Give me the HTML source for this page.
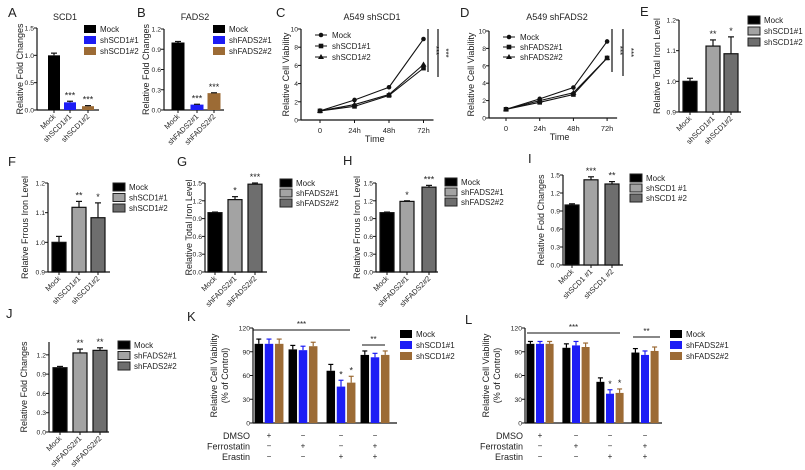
<!DOCTYPE html>
<html><head><meta charset="utf-8"><style>
html,body{margin:0;padding:0;background:#fff}
svg{display:block;font-family:"Liberation Sans",Arial,sans-serif}
</style></head><body>
<svg id="fig" width="805" height="470" viewBox="0 0 805 470"></svg>
<script>
// ---- data arrays ----
const barCats3 = ["Mock","shSCD1#1","shSCD1#2"];
const fadsCats3 = ["Mock","shFADS2#1","shFADS2#2"];
const aValues = [1.0, 0.14, 0.07];  const aErr = [0.04, 0.02, 0.01];
const bValues = [1.0, 0.08, 0.25];  const bErr = [0.015, 0.005, 0.005];
const eValues = [1.0, 1.115, 1.09]; const eErr = [0.01, 0.02, 0.055];
const fValues = [1.0, 1.118, 1.083];const fErr = [0.02, 0.02, 0.05];
const gValues = [1.0, 1.22, 1.48];  const gErr = [0.01, 0.05, 0.02];
const hValues = [1.0, 1.19, 1.43];  const hErr = [0.01, 0.01, 0.03];
const iValues = [1.0, 1.42, 1.35];  const iErr = [0.02, 0.05, 0.04];
const jValues = [1.0, 1.23, 1.27];  const jErr = [0.02, 0.06, 0.04];
const timeLabels = ["0","24h","48h","72h"];
const cMock = [1, 2.2, 3.6, 8.9]; const cSh1 = [1, 1.5, 2.7, 5.7]; const cSh2 = [1, 1.7, 2.8, 6.1];
const dMock = [1, 2.2, 3.5, 8.8]; const dSh1 = [1, 1.8, 2.7, 6.9]; const dSh2 = [1, 2.0, 2.9, 6.9];
const kMock = [100, 93, 66, 86]; const kSh1 = [100, 92, 46, 83]; const kSh2 = [100, 97, 51, 86];
const kErr = [6, 5, 8, 5];
const lMock = [100, 95, 52, 89]; const lSh1 = [100, 98, 37, 86]; const lSh2 = [100, 96, 38, 91];
const lErr = [3, 5, 5, 5];
const treatDMSO = ["+","−","−","−"];
const treatFerro = ["−","+","−","+"];
const treatErastin = ["−","−","+","+"];
const ticks15 = [0,0.5,1.0,1.5]; const ticks12 = [0,0.3,0.6,0.9,1.2];
const ticksIron = [0.9,1.0,1.1,1.2]; const ticks15b = [0,0.3,0.6,0.9,1.2,1.5];
const ticksLine = [0,2,4,6,8,10]; const ticks120 = [0,30,60,90,120];

const NS = "http://www.w3.org/2000/svg";
const svg = document.getElementById("fig");
function mk(tag, attrs, name, parent){
  const el = document.createElementNS(NS, tag);
  for (const k in attrs) el.setAttribute(k, attrs[k]);
  
  
  (parent||svg).appendChild(el); return el;
}
function txt(x,y,s,name,opt){
  opt=opt||{};
  const t = mk("text",{x:x,y:y,"font-size":opt.fs||8,"text-anchor":opt.anchor||"start",fill:opt.fill||"#222"},name);
  if(opt.rot!==undefined) t.setAttribute("transform","rotate("+opt.rot+" "+x+" "+y+")");
  t.textContent=s; return t;
}
function line(x1,y1,x2,y2,name,w){ return mk("line",{x1:x1,y1:y1,x2:x2,y2:y2,stroke:"#111","stroke-width":w||1},name); }

function yAxis(ax, yTop, yBot, vmin, vmax, ticks, fmt, label, lx, fs){
  const ys = v => yBot - (v - vmin)/(vmax - vmin)*(yBot - yTop);
  line(ax, yTop, ax, yBot, "y-axis", 1.2);
  ticks.forEach(t=>{ line(ax-3, ys(t), ax, ys(t), "y-tick"); txt(ax-3, ys(t)+2.5, fmt(t), "y-tick-label",{anchor:"end",fs:6.8}); });
  if(label){ const my=(yTop+yBot)/2; txt(lx, my, label, "y-axis-title",{anchor:"middle",rot:-90,fs:fs||9}); }
  return ys;
}
function legend(x, y0, dy, names, colors, gray){
  names.forEach((n,i)=>{
    mk("rect",{x:x,y:y0+i*dy-4,width:12,height:8,fill:colors[i],stroke:gray?"#222":"none","stroke-width":1},"legend-swatch");
    txt(x+16, y0+i*dy+3, n, "legend-entry",{fs:8});
  });
}
function barPanel(p){
  const ys = yAxis(p.ax,p.yTop,p.yBot,p.vmin,p.vmax,p.ticks,p.fmt,p.ylabel,p.lx,p.lfs);
  line(p.ax, p.yBot, p.ax+p.xlen, p.yBot, "x-axis",1.2);
  p.values.forEach((v,i)=>{
    const cx=p.centers[i], w=p.bw;
    const top=ys(v);
    mk("rect",{x:cx-w/2,y:top,width:w,height:p.yBot-top,fill:p.colors[i],stroke:p.outline?"#111":"none","stroke-width":1.2},"bar-"+p.cats[i]);
    const et=ys(v+p.err[i]);
    line(cx, top, cx, et, "error-bar",1.2); line(cx-3, et, cx+3, et, "error-cap",1.2);
    if(p.stars[i]) txt(cx, et-3, p.stars[i], "significance-stars",{anchor:"middle",fs:9});
    line(cx, p.yBot, cx, p.yBot+3, "x-tick");
    txt(cx+2, p.yBot+7, p.cats[i], "x-tick-label",{anchor:"end",rot:-45,fs:7.5});
  });
  legend(p.lgx, p.lgy, p.lgdy, p.cats, p.colors, p.outline);
}
const f1 = v=>v.toFixed(1);
const BLUE="#1d1df5", BROWN="#9c6b35", G1="#a3a3a3", G2="#6e6e6e";

[["A",8,17],["B",137,17],["C",276,17],["D",460,17],["E",640,16],["F",8,166],["G",177,166],["H",343,165],["I",528,163],["J",6,318],["K",187,321],["L",465,324]]
.forEach(l=>txt(l[1],l[2],l[0],"panel-label-"+l[0].toLowerCase(),{fs:13}));

txt(65,20,"SCD1","chart-title-a",{anchor:"middle",fs:9});
barPanel({ax:37,yTop:28,yBot:110,vmin:0,vmax:1.5,ticks:ticks15,fmt:f1,ylabel:"Relative Fold Changes",lx:23,xlen:62,
  values:aValues,err:aErr,centers:[54,70,88],bw:12,colors:["#000",BLUE,BROWN],cats:barCats3,stars:["","***","***"],lgx:84,lgy:29,lgdy:11});
txt(195,20,"FADS2","chart-title-b",{anchor:"middle",fs:9});
barPanel({ax:164,yTop:29,yBot:110,vmin:0,vmax:1.2,ticks:ticks12,fmt:f1,ylabel:"Relative Fold Changes",lx:149,xlen:60,
  values:bValues,err:bErr,centers:[178,197,214],bw:13,colors:["#000",BLUE,BROWN],cats:fadsCats3,stars:["","***","***"],lgx:213,lgy:29,lgdy:11});
barPanel({ax:679,yTop:20,yBot:112,vmin:0.9,vmax:1.2,ticks:ticksIron,fmt:f1,ylabel:"Relative Total Iron Level",lx:660,xlen:62,
  values:eValues,err:eErr,centers:[690,713,731],bw:14,colors:["#000",G1,G2],cats:barCats3,stars:["","**","*"],lgx:748,lgy:20,lgdy:11,outline:true});
barPanel({ax:48,yTop:183,yBot:272,vmin:0.9,vmax:1.2,ticks:ticksIron,fmt:f1,ylabel:"Relative Frrous Iron Level",lx:28,xlen:62,
  values:fValues,err:fErr,centers:[59,79,98],bw:14,colors:["#000",G1,G2],cats:barCats3,stars:["","**","*"],lgx:113,lgy:187,lgdy:10.5,outline:true});
barPanel({ax:205,yTop:183,yBot:272,vmin:0,vmax:1.5,ticks:ticks15b,fmt:f1,ylabel:"Relative Total Iron Level",lx:192,xlen:62,
  values:gValues,err:gErr,centers:[215,235,255],bw:14,colors:["#000",G1,G2],cats:fadsCats3,stars:["","*","***"],lgx:280,lgy:183,lgdy:10,outline:true});
barPanel({ax:376,yTop:183,yBot:272,vmin:0,vmax:1.5,ticks:ticks15b,fmt:f1,ylabel:"Relative Frrous Iron Level",lx:360,xlen:62,
  values:hValues,err:hErr,centers:[387,407,429],bw:14,colors:["#000",G1,G2],cats:fadsCats3,stars:["","*","***"],lgx:445,lgy:182,lgdy:10,outline:true});
barPanel({ax:563,yTop:175,yBot:265,vmin:0,vmax:1.5,ticks:ticks15b,fmt:f1,ylabel:"Relative Fold Changes",lx:544,xlen:60,
  values:iValues,err:iErr,centers:[572,591,612],bw:14,colors:["#000",G1,G2],cats:["Mock","shSCD1 #1","shSCD1 #2"],stars:["","***","**"],lgx:630,lgy:178,lgdy:10,outline:true});
barPanel({ax:49,yTop:342,yBot:432,vmin:0,vmax:1.4,ticks:ticks12,fmt:f1,ylabel:"Relative Fold Changes",lx:27,xlen:60,
  values:jValues,err:jErr,centers:[60,80,100],bw:14,colors:["#000",G1,G2],cats:fadsCats3,stars:["","**","**"],lgx:118,lgy:345,lgdy:10.5,outline:true});

function lineChart(p){
  const ys = yAxis(p.ax,p.yTop,p.yBot,0,10,ticksLine,v=>String(v),"Relative Cell Viability",p.lx,9);
  const xs = i => p.x0 + i*p.dx;
  line(p.ax,p.yBot,xs(3)+10,p.yBot,"x-axis",1.2);
  timeLabels.forEach((t,i)=>{ line(xs(i),p.yBot,xs(i),p.yBot+3,"x-tick"); txt(xs(i),p.yBot+13,t,"x-tick-label",{anchor:"middle",fs:7.5}); });
  txt((p.x0+xs(3))/2+3,p.yBot+22,"Time","x-axis-title",{anchor:"middle",fs:9});
  txt(p.tx,20,p.title,"chart-title",{anchor:"middle",fs:9});
  const series=[p.mock,p.sh1,p.sh2], names=p.names, markers=["circle","square","tri"];
  function marker(x,y,m,name){
    if(m==="circle") mk("circle",{cx:x,cy:y,r:2.3,fill:"#111"},name);
    else if(m==="square") mk("rect",{x:x-2.3,y:y-2.3,width:4.6,height:4.6,fill:"#111"},name);
    else mk("polygon",{points:(x)+","+(y-3)+" "+(x-3)+","+(y+2)+" "+(x+3)+","+(y+2),fill:"#111"},name);
  }
  series.forEach((s,k)=>{
    mk("polyline",{points:s.map((v,i)=>xs(i)+","+ys(v)).join(" "),fill:"none",stroke:"#111","stroke-width":1.1},"line-"+names[k]);
    s.forEach((v,i)=>marker(xs(i),ys(v),markers[k],"point-"+names[k]));
    line(p.lgx,p.lgy+k*p.lgdy,p.lgx+12,p.lgy+k*p.lgdy,"legend-line");
    marker(p.lgx+6,p.lgy+k*p.lgdy,markers[k],"legend-marker");
    txt(p.lgx+17,p.lgy+k*p.lgdy+3,names[k],"legend-entry",{fs:8});
  });
  p.sig.forEach(sg=>{ line(sg[0],sg[1],sg[0],sg[2],"significance-line",1.2); txt(sg[0]+5,(sg[1]+sg[2])/2,"***","significance-stars",{anchor:"middle",rot:90,fs:8}); });
}
lineChart({ax:301,yTop:29,yBot:120,lx:289,x0:320,dx:34.5,title:"A549 shSCD1",tx:372,mock:cMock,sh1:cSh1,sh2:cSh2,
  names:["Mock","shSCD1#1","shSCD1#2"],lgx:315,lgy:35,lgdy:11,sig:[[428,29,72],[438,29,77]]});
lineChart({ax:489,yTop:31,yBot:118,lx:474,x0:506,dx:33.7,title:"A549 shFADS2",tx:557,mock:dMock,sh1:dSh1,sh2:dSh2,
  names:["Mock","shFADS2#1","shFADS2#2"],lgx:503,lgy:37,lgdy:10,sig:[[612,29,72],[623,29,76]]});

function groupChart(p){
  const ys = yAxis(p.ax,p.yTop,p.yBot,0,120,ticks120,v=>String(v),null);
  txt(p.ax-36,(p.yTop+p.yBot)/2,"Relative Cell Viability","y-axis-title",{anchor:"middle",rot:-90,fs:9});
  txt(p.ax-25,(p.yTop+p.yBot)/2,"(% of Control)","y-axis-title-2",{anchor:"middle",rot:-90,fs:9});
  line(p.ax,p.yBot,p.ax+p.xlen,p.yBot,"x-axis",1.2);
  const series=[p.mock,p.sh1,p.sh2], cols=["#000",BLUE,BROWN];
  p.groups.forEach((gc,g)=>{
    series.forEach((s,k)=>{
      const cx=gc+(k-1)*p.bw*1.2, top=ys(s[g]);
      mk("rect",{x:cx-p.bw/2,y:top,width:p.bw,height:p.yBot-top,fill:cols[k]},"bar-"+p.names[k]+"-group"+(g+1));
      const et=ys(s[g]+p.err[g]);
      mk("line",{x1:cx,y1:top,x2:cx,y2:et,stroke:cols[k],"stroke-width":1.2},"error-bar");
      mk("line",{x1:cx-2.5,y1:et,x2:cx+2.5,y2:et,stroke:cols[k],"stroke-width":1.2},"error-cap");
      if(g===2 && k>0) txt(cx,et-3,"*","significance-stars",{anchor:"middle",fs:9});
    });
    [treatDMSO,treatFerro,treatErastin].forEach((arr,r)=>txt(gc,p.yBot+15+r*10.5,arr[g],"treatment-sign",{anchor:"middle",fs:8}));
  });
  ["DMSO","Ferrostatin","Erastin"].forEach((n,r)=>txt(p.lblx,p.yBot+16+r*10.5,n,"treatment-label",{anchor:"end",fs:9}));
  line(p.s1[0],p.s1[2],p.s1[1],p.s1[2],"significance-line"); txt((p.s1[0]+p.s1[1])/2,p.s1[2]-3,"***","significance-stars",{anchor:"middle",fs:8});
  line(p.s2[0],p.s2[2],p.s2[1],p.s2[2],"significance-line"); txt((p.s2[0]+p.s2[1])/2,p.s2[2]-3,"**","significance-stars",{anchor:"middle",fs:8});
  legend(p.lgx,p.lgy,11,p.names,cols,false);
}
groupChart({ax:253,yTop:328,yBot:423,xlen:144,groups:[269,303,341,375],bw:8.5,mock:kMock,sh1:kSh1,sh2:kSh2,err:kErr,
  names:["Mock","shSCD1#1","shSCD1#2"],lblx:250,lgx:400,lgy:334,s1:[253,350,330],s2:[362,385,345]});
groupChart({ax:525,yTop:328,yBot:423,xlen:137,groups:[540,576,610,645],bw:8,mock:lMock,sh1:lSh1,sh2:lSh2,err:lErr,
  names:["Mock","shFADS2#1","shFADS2#2"],lblx:523,lgx:670,lgy:334,s1:[527,620,333],s2:[633,660,337]});
</script>
</body></html>
